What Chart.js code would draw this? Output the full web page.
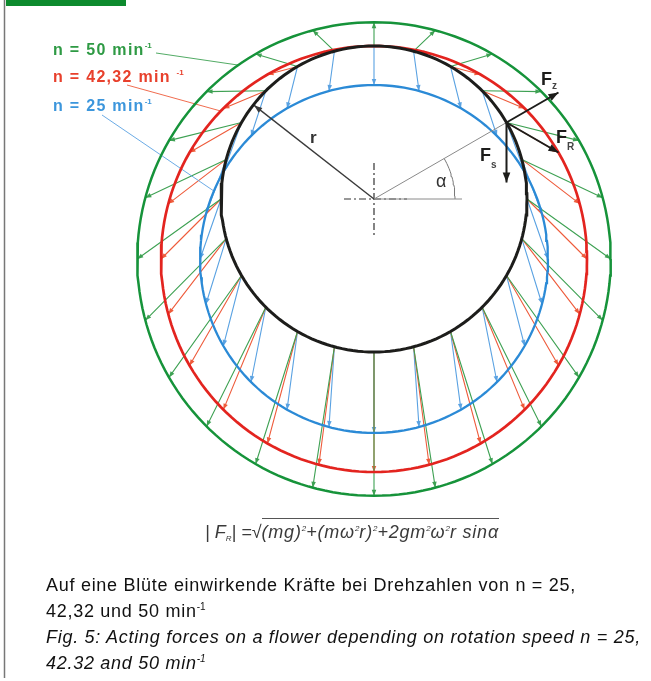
<!DOCTYPE html>
<html>
<head>
<meta charset="utf-8">
<script src="https://cdn.jsdelivr.net/npm/chart.js@4.4.1/dist/chart.umd.min.js"></script>
<style>
  html, body { margin: 0; padding: 0; background: #fff; }
  #wrap { position: relative; width: 651px; height: 681px; overflow: hidden; }
  #chart { position: absolute; left: 0; top: 0; }
  .lbl { position: absolute; white-space: nowrap; line-height: 1; font-family: "Liberation Sans", Arial, sans-serif; }
  .speed { font-size: 16px; font-weight: bold; letter-spacing: 1.3px; }
  .speed sup { font-size: 8px; vertical-align: 7px; letter-spacing: 0; }
  .force { font-size: 18px; font-weight: bold; color: #1d1d1b; }
  .force sub { font-size: 10px; color: #444; }
  .cap { font-size: 18px; color: #111; letter-spacing: 0.72px; }
  .cap sup { font-size: 10px; vertical-align: 7px; letter-spacing: 0; }
  #formula { font-size: 18px; font-style: italic; color: #3a3a3a; }
  #formula .rad { border-top: 1px solid #555; padding-top: 3px; letter-spacing: 0.8px; }
  #formula sup { font-size: 8px; vertical-align: 7px; letter-spacing: 0; }
  #formula sub { font-size: 8px; vertical-align: -3px; }
</style>
</head>
<body>
<div id="wrap">
  <canvas id="chart" width="651" height="681"></canvas>

  <div class="lbl speed" style="left:53px; top:42px; color:#2e9a44">n = 50 min<sup>-1</sup></div>
  <div class="lbl speed" style="left:53px; top:69px; color:#e8402c">n = 42,32 min <sup>-1</sup></div>
  <div class="lbl speed" style="left:53px; top:98px; color:#3c96dc">n = 25 min<sup>-1</sup></div>

  <div class="lbl force" style="left:541px; top:70px">F<sub style="vertical-align:-4px">z</sub></div>
  <div class="lbl force" style="left:556px; top:128px">F<sub style="vertical-align:-7px">R</sub></div>
  <div class="lbl force" style="left:480px; top:146px">F<sub style="vertical-align:-7px">s</sub></div>
  <div class="lbl" style="left:310px; top:129px; font-size:17px; font-weight:bold; color:#333">r</div>
  <div class="lbl" style="left:436px; top:172px; font-size:18px; color:#333">α</div>

  <div class="lbl" id="formula" style="left:205px; top:523px">| F<sub>R</sub>| =√<span class="rad">(mg)<sup>2</sup>+(mω<sup>2</sup>r)<sup>2</sup>+2gm<sup>2</sup>ω<sup>2</sup>r sinα</span></div>

  <div class="lbl cap" style="left:46px; top:576px">Auf eine Blüte einwirkende Kräfte bei Drehzahlen von n = 25,</div>
  <div class="lbl cap" style="left:46px; top:602px">42,32 und 50 min<sup>-1</sup></div>
  <div class="lbl cap" style="left:46px; top:628px; font-style:italic">Fig. 5: Acting forces on a flower depending on rotation speed n = 25,</div>
  <div class="lbl cap" style="left:46px; top:654px; font-style:italic">42.32 and 50 min<sup>-1</sup></div>
</div>

<script>
// --- Datos de la figura ---
const speeds = [50, 42.32, 25];            // Drehzahl n in min^-1 (grün, rot, blau)
const criticalSpeed = 42.32;               // bei dieser Drehzahl gilt ω²r = g
const arrowAngles = [0, 15, 30, 45, 60, 75, 90, 105, 120, 135, 150, 165,
                     180, 195, 210, 225, 240, 255, 270, 285, 300, 315, 330, 345];
const leaderAngles = [125, 136, 157];      // wo die Beschriftungslinien den Kreis treffen
const forceAngle = 30;                     // α der markierten Blüte
const radiusAngle = 142;                   // Richtung des r-Pfeils

// --- Geometrie (Pixel) ---
const CX = 374, CY = 199;   // Mittelpunkt der Trommel
const R = 153;              // Trommelradius
const G = 60;               // Länge von m·g
const leaderStarts = [{x: 156, y: 53}, {x: 127, y: 85}, {x: 102, y: 115}];

// --- Farben ---
const circleColors = ['#16933a', '#e3241f', '#2b8ad6'];
const arrowColors = ['#3ea153', '#ee5b3b', '#5aa2e2'];
const circleWidths = [2.5, 2.7, 2.3];
const BLACK = '#1d1d1b';

const rad = d => d * Math.PI / 180;
const gap = {x: null, y: null};

function onCircle(cx, cy, r, deg) {
    return {x: cx + r * Math.cos(rad(deg)), y: cy - r * Math.sin(rad(deg))};
}

// Spitze von F_R = m·g (nach unten) + m·ω²·r (radial nach außen)
function forceTip(deg, n) {
    const p = onCircle(CX, CY, R, deg);
    const k = G * Math.pow(n / criticalSpeed, 2);
    return {x: p.x + k * Math.cos(rad(deg)), y: p.y - k * Math.sin(rad(deg)) + G};
}

function ring(cx, cy, r, from, to) {
    const pts = [];
    for (let d = from; d <= to; d += 2) pts.push(onCircle(cx, cy, r, d));
    return pts;
}

const datasets = [];

// Kraftpfeile je Drehzahl
speeds.forEach((n, i) => {
    const data = [];
    arrowAngles.forEach(a => {
        data.push(onCircle(CX, CY, R, a), forceTip(a, n), gap);
    });
    datasets.push({data, borderColor: arrowColors[i], borderWidth: 1.1, head: 6, order: 5});
});

// Kreise der Pfeilspitzen
speeds.forEach((n, i) => {
    const tipR = R + G * Math.pow(n / criticalSpeed, 2);
    datasets.push({data: ring(CX, CY + G, tipR, 0, 360), borderColor: circleColors[i],
                   borderWidth: circleWidths[i], order: 4});
    // Beschriftungslinie
    datasets.push({data: [leaderStarts[i], onCircle(CX, CY + G, tipR, leaderAngles[i])],
                   borderColor: arrowColors[i], borderWidth: 0.9, order: 4});
});

// Trommel
datasets.push({data: ring(CX, CY, R, 0, 360), borderColor: BLACK, borderWidth: 3, order: 3});

// Hilfslinien: Winkel α, Radius r, Mittelkreuz
const P = onCircle(CX, CY, R, forceAngle);
datasets.push({data: [{x: CX, y: CY}, P], borderColor: '#8a8a8a', borderWidth: 1, order: 3});
datasets.push({data: [{x: CX, y: CY}, {x: CX + 88, y: CY}], borderColor: '#8a8a8a', borderWidth: 1, order: 3});
datasets.push({data: ring(CX, CY, 81, 0, forceAngle), borderColor: '#777', borderWidth: 1, order: 3});
datasets.push({data: [{x: CX, y: CY}, onCircle(CX, CY, R - 1, radiusAngle), gap],
               borderColor: '#3a3a3a', borderWidth: 1.4, head: 8, order: 3});
datasets.push({data: [{x: CX - 30, y: CY}, {x: CX + 33, y: CY}], borderColor: '#333',
               borderWidth: 1.2, borderDash: [7, 3, 2, 3], order: 3});
datasets.push({data: [{x: CX, y: CY - 36}, {x: CX, y: CY + 36}], borderColor: '#333',
               borderWidth: 1.2, borderDash: [7, 3, 2, 3], order: 3});

// F_z, F_s, F_R an der markierten Blüte (kritische Drehzahl)
const fz = {x: P.x + G * Math.cos(rad(forceAngle)), y: P.y - G * Math.sin(rad(forceAngle))};
const fs = {x: P.x, y: P.y + G};
datasets.push({data: [P, fz, gap, P, fs, gap, P, forceTip(forceAngle, criticalSpeed), gap],
               borderColor: BLACK, borderWidth: 2, head: 10, order: 1});

datasets.forEach(ds => {
    ds.showLine = true;
    ds.pointRadius = 0;
    ds.fill = false;
    ds.tension = 0;
});

// Pfeilspitzen am Ende jedes Segments (Start, Ende, Lücke)
const arrowHeads = {
    id: 'arrowHeads',
    afterDatasetDraw(chart, args) {
        const ds = chart.data.datasets[args.index];
        if (!ds.head) return;
        const pts = args.meta.data;
        const ctx = chart.ctx;
        ctx.save();
        ctx.fillStyle = ds.borderColor;
        for (let i = 0; i + 1 < pts.length; i += 3) {
            const a = pts[i], b = pts[i + 1];
            const dx = b.x - a.x, dy = b.y - a.y;
            const len = Math.hypot(dx, dy);
            if (len < 3) continue;
            const ux = dx / len, uy = dy / len;
            const L = ds.head, W = ds.head * 0.38;
            ctx.beginPath();
            ctx.moveTo(b.x, b.y);
            ctx.lineTo(b.x - ux * L - uy * W, b.y - uy * L + ux * W);
            ctx.lineTo(b.x - ux * L + uy * W, b.y - uy * L - ux * W);
            ctx.closePath();
            ctx.fill();
        }
        ctx.restore();
    }
};

new Chart(document.getElementById('chart'), {
    type: 'scatter',
    data: {datasets},
    options: {
        responsive: false,
        animation: false,
        layout: {padding: 0},
        plugins: {legend: {display: false}, tooltip: {enabled: false}},
        scales: {
            x: {type: 'linear', min: 0, max: 651, display: false},
            y: {type: 'linear', min: 0, max: 681, reverse: true, display: false}
        }
    },
    plugins: [arrowHeads, {
        id: 'frame',
        beforeDraw(chart) {
            const ctx = chart.ctx;
            ctx.save();
            ctx.fillStyle = '#0d8a2d';
            ctx.fillRect(6, 0, 120, 6);
            ctx.strokeStyle = '#777';
            ctx.lineWidth = 1.5;
            ctx.beginPath();
            ctx.moveTo(4.5, 0);
            ctx.lineTo(4.5, 678);
            ctx.stroke();
            ctx.restore();
        }
    }]
});
</script>
</body>
</html>
